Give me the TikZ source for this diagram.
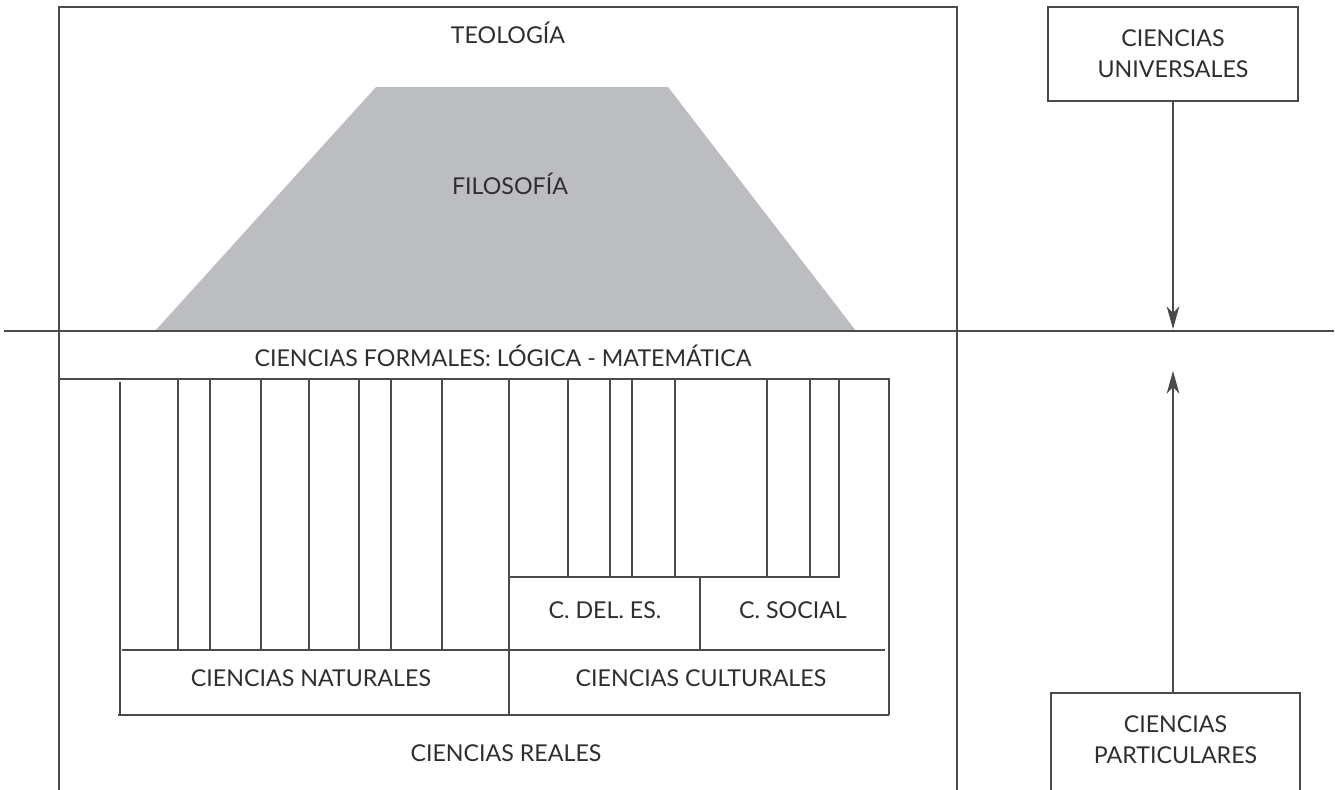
\documentclass[tikz,border=0pt]{standalone}
\usepackage{fontspec}
\setmainfont{Lato}
\usetikzlibrary{arrows.meta}
\definecolor{lc}{HTML}{4A4A4A}
\definecolor{tc}{HTML}{2E2E2E}
\definecolor{trapfill}{HTML}{BCBDC0}
\begin{document}
\begin{tikzpicture}[x=0.75pt,y=-0.75pt,
  ln/.style={draw=lc, line width=0.9pt},
  lbl/.style={font=\fontsize{17.4}{23}\selectfont, text=tc, inner sep=0pt, align=center},
  sidebox/.style={draw=lc, line width=0.9pt, inner sep=0pt},
  arr/.style={draw=lc, line width=0.9pt, -{Stealth[length=17pt,width=9.5pt,inset=5pt]}}]
\useasboundingbox (0,0) rectangle (1335,789);
\clip (0,0) rectangle (1335,789);
% trapezoid
\fill[trapfill] (155,331) -- (376,87) -- (668,87) -- (856,331) -- cycle;
% main frame
\draw[ln] (59,800) -- (59,7) -- (957,7) -- (957,800);
\draw[ln] (4,331) -- (1334,331);
% formal sciences line
\draw[ln] (59,379) -- (889,379) -- (889,715);
% natural sciences verticals
\draw[ln] (120,382) -- (120,716);
\foreach \xx in {178,210,261,309,359,391,442}
  \draw[ln] (\xx,380) -- (\xx,650);
\draw[ln] (509,379) -- (509,715);
% cultural verticals
\foreach \xx in {568,610,632,675,767,810}
  \draw[ln] (\xx,380) -- (\xx,577);
\draw[ln] (839,380) -- (839,577) -- (509,577);
\draw[ln] (700,577) -- (700,650);
% lower horizontals
\draw[ln] (122,650) -- (885,650);
\draw[ln] (118,715) -- (889,715);
% labels
\node[lbl] (teo) at (508,33) {TEOLOGÍA};
\node[lbl] (filo) at (510,184) {FILOSOFÍA};
\node[lbl] (form) at (503,356) {CIENCIAS FORMALES: LÓGICA - MATEMÁTICA};
\node[lbl] (cdes) at (605,610) {C. DEL. ES.};
\node[lbl] (csoc) at (793,610) {C. SOCIAL};
\node[lbl] (nat) at (311,678) {CIENCIAS NATURALES};
\node[lbl] (cult) at (701,678) {CIENCIAS CULTURALES};
\node[lbl] (real) at (506,753) {CIENCIAS REALES};
% side boxes
\node[sidebox, minimum width=187.5pt, minimum height=70.5pt] (ubox) at (1173,54) {};
\node[lbl] (utext) at (1173,54) {CIENCIAS\\UNIVERSALES};
\node[sidebox, minimum width=186.75pt, minimum height=90pt] (pbox) at (1175.5,753) {};
\node[lbl] (ptext) at (1175.5,740) {CIENCIAS\\PARTICULARES};
\coordinate (utip) at (1173,329);
\coordinate (ptip) at (1173,371);
\draw[arr] (ubox.south -| utip) -- (utip);
\draw[arr] (pbox.north -| ptip) -- (ptip);
\end{tikzpicture}
\end{document}
